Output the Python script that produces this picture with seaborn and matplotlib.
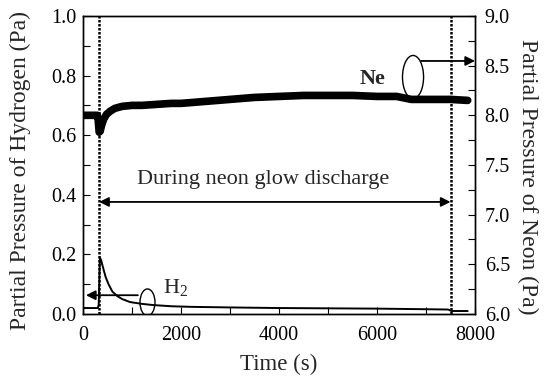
import numpy as np
import pandas as pd
import seaborn as sns
import matplotlib
matplotlib.use("Agg")
import matplotlib.pyplot as plt
from matplotlib.patches import Ellipse
from matplotlib.ticker import MultipleLocator

# neon partial pressure (right axis)
ne_time = [0, 100, 200, 290, 310, 330, 350, 380, 420, 480, 550, 650, 800, 1000, 1200, 1500,
           1800, 2000, 2500, 3000, 3500, 4000, 4500, 5000, 5500, 6000, 6400, 6700, 7000, 7500, 7850]
ne_pa = [8.0, 8.0, 8.0, 8.0, 7.95, 7.83, 7.84, 7.9, 7.96, 8.01, 8.04, 8.07, 8.09, 8.1, 8.1, 8.11,
         8.12, 8.12, 8.14, 8.16, 8.18, 8.19, 8.2, 8.2, 8.2, 8.19, 8.19, 8.16, 8.16, 8.16, 8.15]

# hydrogen partial pressure (left axis)
h2_time = [0, 150, 300, 320, 345, 370, 410, 460, 520, 600, 700, 800, 960, 1200, 1430, 1800,
           2200, 3000, 4000, 5000, 6000, 7000, 7450, 7520, 7850]
h2_pa = [0.02, 0.02, 0.02, 0.03, 0.19, 0.18, 0.155, 0.125, 0.1, 0.075, 0.06, 0.05, 0.04, 0.034,
         0.03, 0.026, 0.024, 0.022, 0.02, 0.019, 0.018, 0.016, 0.015, 0.01, 0.01]

glow_start = 330
glow_end = 7500

sns.set_theme(style="ticks")
plt.rcParams['font.family'] = ['Liberation Serif', 'DejaVu Serif']
plt.rcParams['mathtext.fontset'] = 'custom'
plt.rcParams['mathtext.rm'] = 'Liberation Serif'

fig = plt.figure(figsize=(5.44, 3.8), dpi=100)
ax = fig.add_axes([0.1526, 0.1737, 0.7206, 0.7843])
ax2 = ax.twinx()

df_h2 = pd.DataFrame({'time': h2_time, 'p': h2_pa})
df_ne = pd.DataFrame({'time': ne_time, 'p': ne_pa})
sns.lineplot(data=df_h2, x='time', y='p', ax=ax, color='black', linewidth=1.4)
sns.lineplot(data=df_ne, x='time', y='p', ax=ax2, color='black', linewidth=5.5)

for t in (glow_start, glow_end):
    ax.axvline(t, color='black', linestyle=(0, (1, 0.6)), linewidth=1.8)

ax.set_xlim(0, 8000)
ax.set_ylim(0, 1.0)
ax2.set_ylim(6.0, 9.0)

ax.xaxis.set_major_locator(MultipleLocator(2000))
ax.xaxis.set_minor_locator(MultipleLocator(1000))
ax.yaxis.set_major_locator(MultipleLocator(0.2))
ax.yaxis.set_minor_locator(MultipleLocator(0.1))
ax2.yaxis.set_major_locator(MultipleLocator(0.5))
ax2.yaxis.set_minor_locator(MultipleLocator(0.25))
ax.set_yticklabels([f"{v:.1f}" for v in ax.get_yticks()])
ax2.set_yticklabels([f"{v:.1f}" for v in ax2.get_yticks()])

for a in (ax, ax2):
    a.tick_params(which='both', direction='in', length=5, width=0.8, labelsize=14.5, colors='black')
    for s in a.spines.values():
        s.set_linewidth(1.0)
        s.set_color('black')
ax.tick_params(axis='x', pad=9)
ax.tick_params(axis='y', pad=5)
ax2.tick_params(axis='y', pad=7)

ax.set_xlabel('Time (s)', fontsize=16.5, labelpad=6)
ax.set_ylabel('Partial Pressure of Hydrogen (Pa)', fontsize=17, labelpad=14, y=0.483)
ax2.set_ylabel('Partial Pressure of Neon (Pa)', fontsize=17, rotation=270, labelpad=20, y=0.46)

# during discharge arrow
ax.annotate('', xy=(glow_start, 0.376), xytext=(glow_end, 0.376),
            arrowprops=dict(arrowstyle='<|-|>', color='black', lw=1.3, mutation_scale=14,
                            shrinkA=0, shrinkB=0))
ax.text(3670, 0.45, 'During neon glow discharge', fontsize=16, ha='center', va='center')

# Ne marker
ax.add_patch(Ellipse((6735, 0.795), 430, 0.145, fill=False, edgecolor='black', lw=1.0))
ax.annotate('', xy=(8000, 0.849), xytext=(6900, 0.849),
            arrowprops=dict(arrowstyle='-|>', color='black', lw=1.3, mutation_scale=14,
                            shrinkA=0, shrinkB=0), annotation_clip=False)
ax.text(5900, 0.79, 'Ne', fontsize=16, fontweight='bold', ha='center', va='center')

# H2 marker
ax.add_patch(Ellipse((1316, 0.039), 306, 0.09, fill=False, edgecolor='black', lw=1.0))
ax.annotate('', xy=(60, 0.063), xytext=(1120, 0.063),
            arrowprops=dict(arrowstyle='-|>', color='black', lw=1.3, mutation_scale=14,
                            shrinkA=0, shrinkB=0))
ax.text(1880, 0.085, 'H$_2$', fontsize=16, ha='center', va='center')

ax.set_zorder(ax2.get_zorder() + 1)
ax.patch.set_visible(False)

fig.savefig('out.png', dpi=100)
